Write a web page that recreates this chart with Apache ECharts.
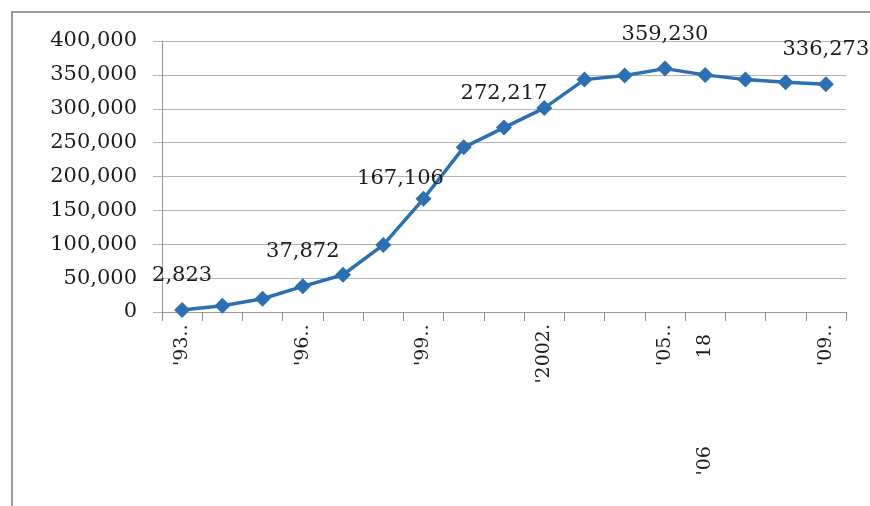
<!DOCTYPE html>
<html>
<head>
<meta charset="utf-8">
<title>Trend 1993–2009</title>
<script src="https://cdn.jsdelivr.net/npm/echarts@6/dist/echarts.min.js"></script>
<style>
  html, body { margin: 0; padding: 0; background: #ffffff; }
  #chart { width: 870px; height: 506px; }
</style>
</head>
<body>
<div id="chart"></div>
<script>
// Years on the category axis
const categories = ["'93", "'94", "'95", "'96", "'97", "'98", "'99", "'2000", "'01",
  "'2002", "'03", "'04", "'05", "'06", "'07", "'08", "'09"];

// Yearly totals
const values = [2823, 9300, 19600, 37872, 55000, 99000, 167106, 243000, 272217,
  301000, 343000, 349000, 359230, 350000, 343000, 339000, 336273];

// Text shown under the axis (blank = not shown)
const tickLabels = ["'93‥", "", "", "'96‥", "", "", "'99‥", "", "",
  "'2002.", "", "", "'05‥", "'06 18", "", "", "'09‥"];

// Indices of points whose value is printed
const labelledPoints = [0, 3, 6, 8, 12, 16];

const yTicks = { min: 0, max: 400000, interval: 50000 };

const FONT = 'DejaVu Serif';
const TEXT = '#1c1c1c';
const GRID = '#b4b4b4';
const BLUE = '#2a70b2';

function fmt(v) {
  return v.toLocaleString('en-US');
}

const seriesData = values.map(function (v, i) {
  const item = { value: v };
  if (labelledPoints.indexOf(i) >= 0) {
    item.label = { show: true };
    if (i === 6) {
      item.label.distance = 2;
      item.label.offset = [-23, 0];
    }
  }
  return item;
});

const chart = echarts.init(document.getElementById('chart'), null, { renderer: 'canvas' });

chart.setOption({
  backgroundColor: '#ffffff',
  animation: false,
  graphic: [{
    type: 'rect',
    shape: { x: 12, y: 12, width: 880, height: 520 },
    style: { fill: 'none', stroke: '#9a9a9a', lineWidth: 2 },
    silent: true,
    z: -10
  }],
  grid: { left: 162, right: 24, top: 41, bottom: 194 },
  xAxis: {
    type: 'category',
    data: categories,
    boundaryGap: true,
    axisLine: { show: true, lineStyle: { color: '#9a9a9a', width: 1 } },
    axisTick: { show: true, interval: 0, length: 9, lineStyle: { color: '#8a8a8a' } },
    axisLabel: {
      interval: function (index) { return tickLabels[index] !== ''; },
      rotate: 90,
      margin: 12,
      fontFamily: FONT,
      fontSize: 19,
      color: TEXT,
      formatter: function (value, index) {
        const t = tickLabels[index];
        if (t.indexOf(' ') >= 0) {
          const parts = t.split(' ');
          return '{a|' + parts[0] + '}{g| }{a|' + parts[1] + '}{p| }';
        }
        return t;
      },
      rich: {
        a: { fontFamily: FONT, fontSize: 19, color: TEXT },
        g: { width: 88, fontSize: 19 },
        p: { width: 10, fontSize: 19 }
      }
    }
  },
  yAxis: {
    type: 'value',
    min: yTicks.min,
    max: yTicks.max,
    interval: yTicks.interval,
    axisLine: { show: true, lineStyle: { color: '#9a9a9a', width: 1 } },
    axisTick: { show: true, length: 9, lineStyle: { color: GRID } },
    splitLine: { show: true, lineStyle: { color: GRID, width: 1 } },
    axisLabel: {
      margin: 25,
      fontFamily: FONT,
      fontSize: 21,
      color: TEXT,
      formatter: function (v) { return fmt(v); }
    }
  },
  series: [{
    type: 'line',
    data: seriesData,
    symbol: 'diamond',
    symbolSize: 16,
    showAllSymbol: true,
    lineStyle: { color: BLUE, width: 3.5 },
    itemStyle: { color: BLUE },
    label: {
      show: false,
      position: 'top',
      distance: 16,
      fontFamily: FONT,
      fontSize: 21,
      color: TEXT,
      formatter: function (p) { return fmt(p.value); }
    }
  }]
});
</script>
</body>
</html>
